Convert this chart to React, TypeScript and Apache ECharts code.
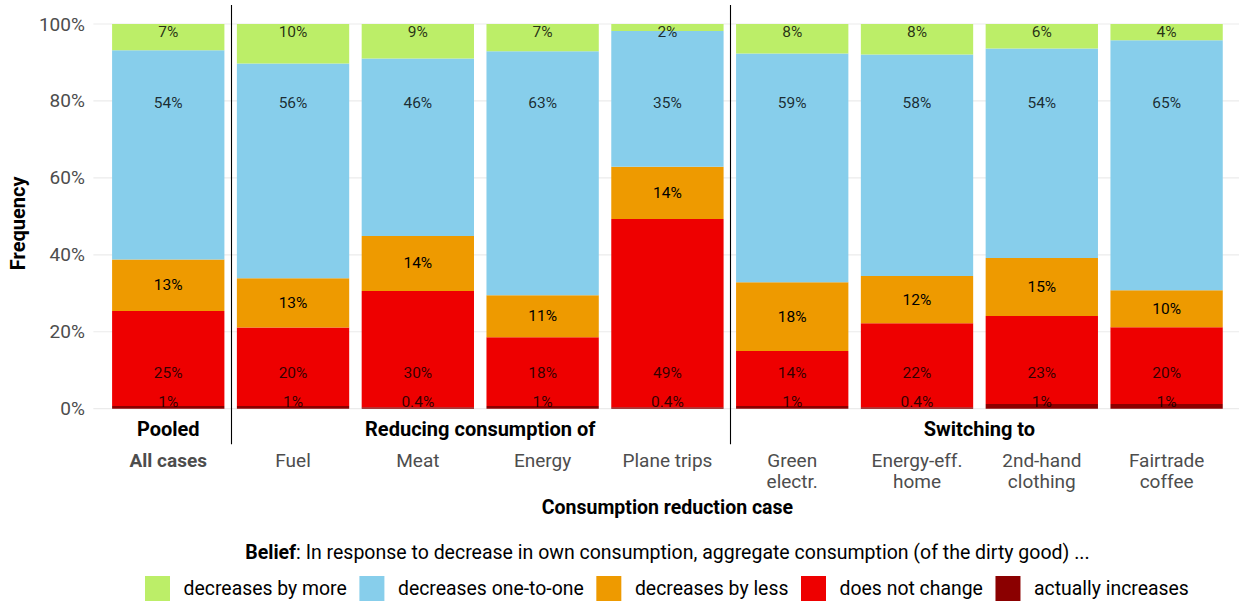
import React, { useEffect, useRef } from "react";
import * as echarts from "echarts";

const categories = [
  "All cases",
  "Fuel",
  "Meat",
  "Energy",
  "Plane trips",
  "Green\nelectr.",
  "Energy-eff.\nhome",
  "2nd-hand\nclothing",
  "Fairtrade\ncoffee",
];

const groupNames = ["Pooled", "Reducing consumption of", "Switching to"];
const groupFrom = [0, 1, 5];
const groupTo = [0, 4, 8];

// shares in percent, per category
const actuallyIncreases = [0.7, 0.7, 0.4, 0.7, 0.4, 0.7, 0.4, 1.2, 1.2];
const doesNotChange = [24.7, 20.4, 30.2, 17.9, 48.9, 14.3, 21.8, 22.9, 20.0];
const decreasesByLess = [13.4, 12.8, 14.3, 10.9, 13.6, 17.9, 12.3, 15.1, 9.6];
const decreasesOneToOne = [54.4, 55.8, 46.1, 63.4, 35.3, 59.4, 57.6, 54.4, 65.0];
const decreasesByMore = [6.8, 10.3, 9.0, 7.1, 1.8, 7.7, 7.9, 6.4, 4.2];

const yTicks = [0, 20, 40, 60, 80, 100];

const legendNames = [
  "decreases by more",
  "decreases one-to-one",
  "decreases by less",
  "does not change",
  "actually increases",
];

const FONT = "Roboto";
const fmt = (v: number) => (v < 0.5 ? v.toFixed(1) : String(Math.round(v))) + "%";

export default function App() {
  const ref = useRef<HTMLDivElement>(null);

  useEffect(() => {
    if (!ref.current) return;
    const chart = echarts.init(ref.current, undefined, { renderer: "svg" });

    const barSeries = (name: string, data: number[], color: string, showLabel: boolean) => ({
      name,
      type: "bar",
      stack: "total",
      data,
      barCategoryGap: "10%",
      itemStyle: { color },
      label: {
        show: showLabel,
        position: "inside",
        formatter: (p: any) => fmt(p.value),
        fontFamily: FONT,
        fontSize: 15.5,
        color: "#000",
      },
      emphasis: { disabled: true },
    });

    const labelSeries = (name: string, data: number[], yPos: number) => ({
      name: name + "-labels",
      type: "scatter",
      symbolSize: 0,
      data: data.map((v, i) => ({ value: [i, yPos], raw: v })),
      label: {
        show: true,
        position: "inside",
        formatter: (p: any) => fmt(p.data.raw),
        fontFamily: FONT,
        fontSize: 15.5,
        color: "#000",
      },
      z: 5,
      silent: true,
    });

    chart.setOption({
      animation: false,
      textStyle: { fontFamily: FONT },
      grid: { left: 102, right: 10, top: 24, bottom: 194.3 },
      legend: {
        data: legendNames,
        icon: "rect",
        itemWidth: 25,
        itemHeight: 25,
        itemGap: 12.6,
        left: 145,
        top: 576,
        padding: 0,
        selectedMode: false,
        textStyle: { fontFamily: FONT, fontSize: 19.4, color: "#000", padding: [0, 0, 0, 8.6] },
      },
      xAxis: {
        type: "category",
        data: categories,
        axisLine: { show: false },
        axisTick: { show: false },
        splitLine: { show: false },
        axisLabel: {
          interval: 0,
          margin: 41.5,
          fontFamily: FONT,
          fontSize: 19,
          lineHeight: 21,
          color: "#4D4D4D",
          formatter: (v: string, i: number) => (i === 0 ? `{b|${v}}` : v),
          rich: {
            b: { fontFamily: FONT, fontSize: 19, lineHeight: 21, fontWeight: "bold", color: "#4D4D4D" },
          },
        },
        name: "Consumption reduction case",
        nameLocation: "middle",
        nameGap: 96.5,
        nameTextStyle: { fontFamily: FONT, fontSize: 19.5, fontWeight: "bold", color: "#000", verticalAlign: "middle" },
      },
      yAxis: {
        type: "value",
        min: 0,
        max: 100,
        interval: 20,
        axisLine: { show: false },
        axisTick: { show: false },
        splitLine: { show: false },
        axisLabel: {
          margin: 21,
          fontFamily: FONT,
          fontSize: 19,
          color: "#4D4D4D",
          formatter: "{value}%",
        },
        name: "Frequency",
        nameLocation: "middle",
        nameGap: 84,
        nameTextStyle: {
          fontFamily: FONT,
          fontSize: 20,
          fontWeight: "bold",
          color: "#000",
          verticalAlign: "middle",
          padding: [0, 14, 0, 0],
        },
      },
      series: [
        barSeries("actually increases", actuallyIncreases, "#8B0000", false),
        barSeries("does not change", doesNotChange, "#EE0000", false),
        barSeries("decreases by less", decreasesByLess, "#EE9A00", true),
        barSeries("decreases one-to-one", decreasesOneToOne, "#87CEEB", false),
        barSeries("decreases by more", decreasesByMore, "#BCEE68", false),
        labelSeries("actually increases", actuallyIncreases, 1.8),
        labelSeries("does not change", doesNotChange, 9.4),
        labelSeries("decreases one-to-one", decreasesOneToOne, 79.5),
        labelSeries("decreases by more", decreasesByMore, 97.8),
      ],
    });

    const px = (i: number) => chart.convertToPixel({ xAxisIndex: 0 }, i) as number;
    const py = (v: number) => chart.convertToPixel({ yAxisIndex: 0 }, v) as number;
    const band = px(1) - px(0);
    const gridLeft = px(0) - 0.6 * band;
    const gridRight = px(categories.length - 1) + 0.6 * band;
    const centerX = (px(0) + px(categories.length - 1)) / 2;
    const y0 = py(0);
    const y100 = py(100);

    const elements: any[] = [];
    yTicks.forEach((t) => {
      elements.push({
        type: "line",
        z: -10,
        silent: true,
        shape: { x1: gridLeft, y1: py(t), x2: gridRight, y2: py(t) },
        style: { stroke: "#EBEBEB", lineWidth: 1.2 },
      });
    });
    [0, 4].forEach((i) => {
      const x = Math.round((px(i) + px(i + 1)) / 2) + 0.5;
      elements.push({
        type: "line",
        z: 10,
        silent: true,
        shape: { x1: x, y1: y100 - 19, x2: x, y2: y0 + 35.5 },
        style: { stroke: "#000", lineWidth: 1.1 },
      });
    });
    groupNames.forEach((g, k) => {
      elements.push({
        type: "text",
        z: 10,
        silent: true,
        x: (px(groupFrom[k]) + px(groupTo[k])) / 2,
        y: y0 + 20.5,
        style: {
          text: g,
          fontFamily: FONT,
          fontSize: 20,
          fontWeight: "bold",
          fill: "#000",
          align: "center",
          verticalAlign: "middle",
        },
      });
    });
    elements.push({
      type: "text",
      z: 10,
      silent: true,
      x: centerX,
      y: 552,
      style: {
        text: "{b|Belief}{r|: In response to decrease in own consumption, aggregate consumption (of the dirty good) ...}",
        align: "center",
        verticalAlign: "middle",
        rich: {
          b: { fontFamily: FONT, fontSize: 19.5, fontWeight: "bold", fill: "#000", color: "#000" },
          r: { fontFamily: FONT, fontSize: 19.5, fill: "#000", color: "#000" },
        },
      },
    });

    chart.setOption({ graphic: { elements } });

    return () => chart.dispose();
  }, []);

  return (
    <div
      ref={ref}
      style={{ position: "fixed", left: 0, top: 0, width: 1239, height: 603, background: "#fff" }}
    />
  );
}
